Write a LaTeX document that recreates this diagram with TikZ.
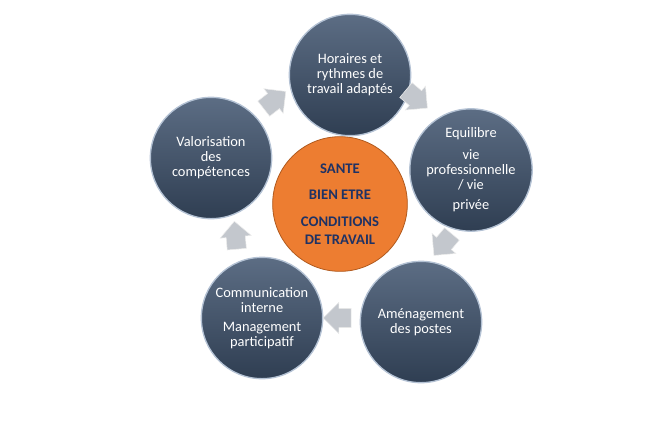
\documentclass[tikz,border=0pt]{standalone}
\usepackage{fontspec}
\setmainfont{Carlito}
\usepackage{tikz}
\usetikzlibrary{shapes.arrows, positioning}
\definecolor{slate}{HTML}{44546A}
\definecolor{slatetop}{HTML}{5C6D84}
\definecolor{slatebot}{HTML}{2F3E52}
\definecolor{rim}{HTML}{B4C2D4}
\definecolor{sorange}{HTML}{ED7D31}
\definecolor{sorangeline}{HTML}{B05A1E}
\definecolor{navy}{HTML}{1F3264}
\definecolor{arrowgray}{HTML}{C3C7CD}

\begin{document}
\begin{tikzpicture}[x=0.75pt, y=-0.75pt,
    theme/.style={circle, minimum size=91pt, inner sep=0pt, align=center,
      top color=slatetop, bottom color=slatebot, draw=rim, line width=1pt,
      text=white, font=\fontsize{10.8}{11.2}\selectfont},
    core/.style={circle, minimum size=101pt, inner sep=0pt, align=center,
      fill=sorange, draw=sorangeline, line width=0.6pt,
      text=navy, font=\fontsize{11}{13.5}\selectfont\bfseries},
    flow/.style={single arrow, minimum height=21pt, inner xsep=0pt,
      inner ysep=7pt, single arrow head extend=4.5pt, fill=arrowgray,
      draw=white!85!gray, line width=0.4pt},
  ]
    \useasboundingbox (0,0) rectangle (652,436);

    \node[core] (C) at (340,204) {SANTE\\[6.5pt] BIEN ETRE\\[6.5pt] CONDITIONS\\ DE TRAVAIL};

    \node[theme] (T1) at (350,75)  {Horaires et\\ rythmes de\\ travail adaptés};
    \node[theme] (T2) at (471,170) {Equilibre\\[5pt] vie\\ professionnelle\\ / vie\\[4pt] privée};
    \node[theme] (T3) at (421,322) {Aménagement\\ des postes};
    \node[theme] (T4) at (262,318) {Communication\\ interne\\[3pt] Management\\ participatif};
    \node[theme] (T5) at (211,158) {Valorisation\\ des\\ compétences};

    % block arrows between the themes
    \foreach \n/\x/\y/\r in {a1/271/103/38, a2/413/96/-40, a3/446/241/-130,
                              a4/342/318/180, a5/236/240/95} {
      \node[flow, rotate=\r] (\n) at (\x,\y) {};
    }
  \end{tikzpicture}
\end{document}
